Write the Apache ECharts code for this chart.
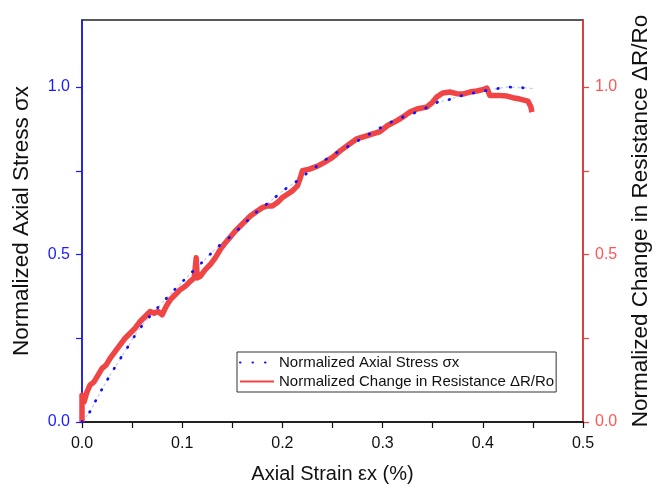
<!DOCTYPE html>
<html>
<head>
<meta charset="utf-8">
<script src="https://cdn.jsdelivr.net/npm/echarts@6/dist/echarts.min.js"></script>
<style>html,body{margin:0;padding:0;background:#fff}#c{width:660px;height:489px}</style>
</head>
<body>
<div id="c"></div>
<script>
// Normalized axial stress (blue dotted)
const stressStrain = [0.0,0.003,0.009,0.013,0.019,0.028,0.038,0.047,0.055,0.066,0.077,0.09,0.104,0.111,0.121,0.128,0.134,0.15,0.163,0.173,0.185,0.192,0.204,0.215,0.222,0.235,0.248,0.259,0.27,0.28,0.29,0.299,0.306,0.32,0.334,0.345,0.355,0.365,0.38,0.395,0.412,0.424,0.437,0.446,0.45];
const stressValues = [0.0,0.012,0.035,0.06,0.093,0.14,0.188,0.23,0.269,0.31,0.346,0.388,0.43,0.451,0.48,0.501,0.519,0.558,0.595,0.624,0.652,0.669,0.698,0.72,0.737,0.765,0.794,0.812,0.83,0.848,0.865,0.88,0.892,0.91,0.925,0.94,0.955,0.961,0.975,0.985,0.994,1.0,0.998,0.997,0.995];
// Normalized change in resistance (red)
const resistStrain = [0.0,0.0,0.002,0.005,0.008,0.012,0.016,0.02,0.024,0.028,0.033,0.038,0.043,0.048,0.053,0.058,0.063,0.068,0.072,0.076,0.08,0.084,0.088,0.093,0.098,0.103,0.108,0.112,0.114,0.115,0.118,0.123,0.128,0.133,0.138,0.143,0.148,0.153,0.158,0.163,0.168,0.175,0.18,0.185,0.19,0.195,0.2,0.205,0.21,0.215,0.218,0.22,0.227,0.235,0.242,0.25,0.258,0.267,0.274,0.284,0.29,0.297,0.305,0.314,0.32,0.327,0.335,0.344,0.35,0.354,0.36,0.367,0.374,0.38,0.387,0.394,0.4,0.404,0.407,0.415,0.424,0.43,0.437,0.445,0.448,0.449];
const resistValues = [0.0,0.08,0.06,0.09,0.11,0.12,0.14,0.16,0.17,0.19,0.21,0.23,0.25,0.265,0.28,0.3,0.315,0.33,0.325,0.33,0.32,0.345,0.365,0.38,0.395,0.405,0.42,0.43,0.49,0.43,0.435,0.455,0.47,0.49,0.515,0.535,0.552,0.57,0.585,0.6,0.615,0.63,0.64,0.645,0.645,0.655,0.67,0.68,0.69,0.705,0.73,0.75,0.755,0.764,0.775,0.79,0.81,0.83,0.845,0.854,0.86,0.866,0.885,0.899,0.91,0.925,0.935,0.94,0.955,0.97,0.982,0.985,0.98,0.979,0.985,0.988,0.992,0.997,0.975,0.975,0.973,0.968,0.964,0.958,0.94,0.925];
const xTicks = ['0.0','0.1','0.2','0.3','0.4','0.5'];
const yTicks = ['0.0','0.5','1.0'];

const stressData = stressStrain.map((x,i)=>[x,stressValues[i]]);
const resistData = resistStrain.map((x,i)=>[x,resistValues[i]]);
const FONT = 'Liberation Sans, Arial, sans-serif';
const fmtY = v => { const s=v.toFixed(1); return yTicks.includes(s) && Math.abs(v*2-Math.round(v*2))<1e-6 ? s : ''; };
const fmtX = v => { const s=v.toFixed(1); return (Math.abs(v*10-Math.round(v*10))<1e-6 && xTicks.includes(s)) ? s : ''; };

const chart = echarts.init(document.getElementById('c'));
chart.setOption({
  animation:false,
  backgroundColor:'#fff',
  grid:{left:82,right:77,top:20,bottom:66,show:true,borderColor:'#222',borderWidth:1.5,backgroundColor:'transparent'},
  legend:{
    orient:'vertical',left:237,top:352,
    backgroundColor:'#fff',borderColor:'#333',borderWidth:1,borderRadius:0,
    padding:[3,2,3,2],itemGap:4,itemWidth:34,itemHeight:14,
    itemStyle:{opacity:0},
    textStyle:{fontFamily:FONT,fontSize:15,color:'#111',lineHeight:15},
    data:['Normalized Axial Stress σx','Normalized Change in Resistance ΔR/Ro']
  },
  xAxis:{
    type:'value',min:0,max:0.5,interval:0.05,
    name:'Axial Strain εx (%)',nameLocation:'middle',nameGap:42,
    nameTextStyle:{fontFamily:FONT,fontSize:20,color:'#111'},
    axisLine:{onZero:false,lineStyle:{color:'#111',width:1.5}},
    axisTick:{inside:false,length:6,lineStyle:{color:'#111',width:1.2}},
    axisLabel:{fontFamily:FONT,fontSize:16,color:'#111',margin:14,formatter:fmtX},
    splitLine:{show:false}
  },
  yAxis:[
    {type:'value',min:0,max:1.2,interval:0.25,position:'left',
     name:'Normalized Axial Stress σx',nameLocation:'middle',nameGap:49,
     nameTextStyle:{fontFamily:FONT,fontSize:22.5,color:'#111'},
     axisLine:{show:true,lineStyle:{color:'#1a1aff',width:1.5}},
     axisTick:{show:true,length:6,lineStyle:{color:'#1a1aff',width:1.2}},
     axisLabel:{fontFamily:FONT,fontSize:16,color:'#1a1aff',margin:12,formatter:fmtY,showMaxLabel:false},
     splitLine:{show:false}},
    {type:'value',min:0,max:1.2,interval:0.25,position:'right',
     name:'Normalized Change in Resistance ΔR/Ro',nameLocation:'middle',nameGap:46,
     nameTextStyle:{fontFamily:FONT,fontSize:22.5,color:'#111'},
     axisLine:{show:true,lineStyle:{color:'#ff3b3b',width:1.5}},
     axisTick:{show:true,length:6,lineStyle:{color:'#ff3b3b',width:1.2}},
     axisLabel:{fontFamily:FONT,fontSize:16,color:'#ff5555',margin:12,formatter:fmtY,showMaxLabel:false},
     splitLine:{show:false}}
  ],
  series:[
    {type:'line',yAxisIndex:0,data:stressData,symbol:'none',z:2,silent:true,
     lineStyle:{color:'#c8c8f4',width:1.2,type:[3,3]}},
    {name:'Normalized Axial Stress σx',type:'line',yAxisIndex:0,data:stressData,
     symbol:'none',smooth:false,z:4,
     itemStyle:{color:'#0000ff'},
     lineStyle:{color:'#1010ff',width:2.8,type:[0.5,12],cap:'round'}},
    {name:'Normalized Change in Resistance ΔR/Ro',type:'line',yAxisIndex:1,data:resistData,
     symbol:'none',smooth:false,z:3,
     itemStyle:{color:'#f04545'},
     lineStyle:{color:'#f04545',width:5.5,join:'round'}}
  ]
});
</script>
</body>
</html>
